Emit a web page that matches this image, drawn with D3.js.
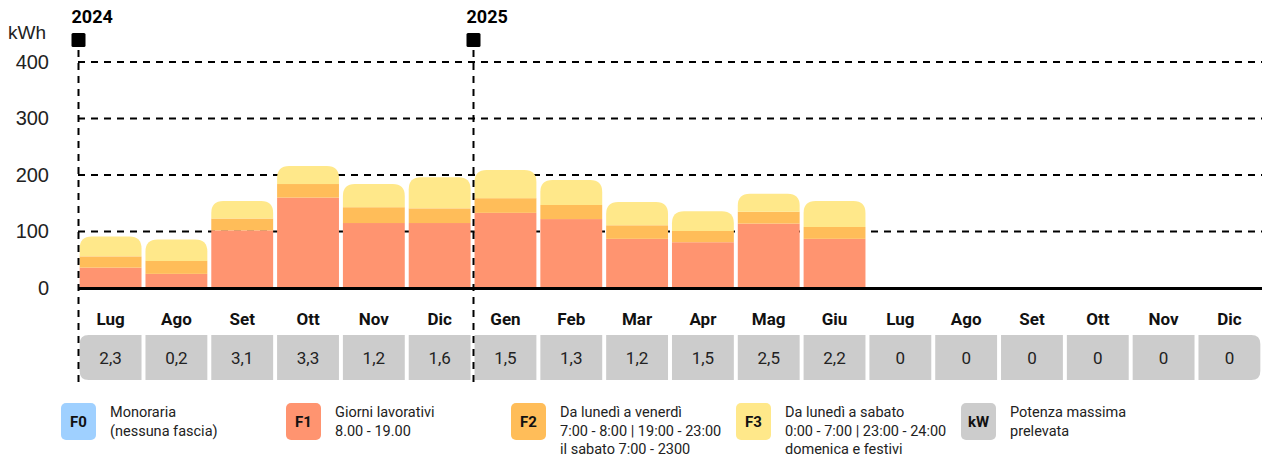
<!DOCTYPE html>
<html>
<head>
<meta charset="utf-8">
<script src="https://cdn.jsdelivr.net/npm/d3@7"></script>
<style>
  body { margin: 0; background: #fff; }
  svg { display: block; font-family: Roboto, "Noto Sans", sans-serif; }
</style>
</head>
<body>
<svg id="chart"></svg>
<script>
// months shown (two years, Jul 2024 .. Dic 2025)
var months = ["Lug","Ago","Set","Ott","Nov","Dic","Gen","Feb","Mar","Apr","Mag","Giu","Lug","Ago","Set","Ott","Nov","Dic"];
var keys = ["2024-07","2024-08","2024-09","2024-10","2024-11","2024-12","2025-01","2025-02","2025-03","2025-04","2025-05","2025-06","2025-07","2025-08","2025-09","2025-10","2025-11","2025-12"];
// kWh per fascia
var f1 = [36, 25, 102, 160, 115, 115, 133, 122, 87, 81, 114, 87, 0, 0, 0, 0, 0, 0];
var f2 = [20, 23, 21, 24, 28, 26, 26, 25, 24, 20, 21, 21, 0, 0, 0, 0, 0, 0];
var f3 = [35, 38, 31, 32, 41, 55, 50, 44, 41, 35, 32, 46, 0, 0, 0, 0, 0, 0];
// potenza massima prelevata (kW)
var kw = ["2,3","0,2","3,1","3,3","1,2","1,6","1,5","1,3","1,2","1,5","2,5","2,2","0","0","0","0","0","0"];
var yTicks = [0, 100, 200, 300, 400];
var years = [{label: "2024", key: "2024-07"}, {label: "2025", key: "2025-01"}];

var legendItems = [
  {code: "F0", color: "#9fd0ff", lines: ["Monoraria", "(nessuna fascia)"]},
  {code: "F1", color: "#ff9470", lines: ["Giorni lavorativi", "8.00 - 19.00"]},
  {code: "F2", color: "#ffbd59", lines: ["Da lunedì a venerdì", "7:00 - 8:00 | 19:00 - 23:00", "il sabato 7:00 - 2300"]},
  {code: "F3", color: "#ffe88a", lines: ["Da lunedì a sabato", "0:00 - 7:00 | 23:00 - 24:00", "domenica e festivi"]},
  {code: "kW", color: "#cccccc", lines: ["Potenza massima", "prelevata"]}
];
var colors = {f1: "#ff9470", f2: "#ffbd59", f3: "#ffe88a"};

var W = 1262, H = 459;
var svg = d3.select("#chart").attr("width", W).attr("height", H);

var x = d3.scaleBand().domain(keys).range([79, 1261]).paddingInner(0.06).paddingOuter(0.01);
var y = d3.scaleLinear().domain([0, 400]).range([288, 62]);

var data = keys.map(function(k, i){
  return {key: k, month: months[i], f1: f1[i], f2: f2[i], f3: f3[i], kw: kw[i]};
});

// gridlines
svg.append("g").selectAll("line").data(yTicks.filter(function(t){ return t > 0; })).enter()
  .append("line")
  .attr("x1", 78).attr("x2", W)
  .attr("y1", function(d){ return y(d); }).attr("y2", function(d){ return y(d); })
  .attr("stroke", "#000").attr("stroke-width", 2).attr("stroke-dasharray", "7,6");

// y axis labels
var yAxis = d3.axisLeft(y).tickValues(yTicks).tickSize(0).tickPadding(0);
var ya = svg.append("g").attr("transform", "translate(49,0)").call(yAxis);
ya.select(".domain").remove();
ya.selectAll("text").attr("font-size", 20).attr("fill", "#222").attr("font-family", "'Liberation Sans', Arial, sans-serif");

svg.append("text").attr("x", 8).attr("y", 39).attr("font-size", 19).attr("fill", "#222")
  .attr("font-family", "'Liberation Sans', Arial, sans-serif").text("kWh");

// rounded-top path
function roundedTop(x0, y0, w, h, r){
  r = Math.min(r, h, w / 2);
  return "M" + x0 + "," + (y0 + h) +
    "V" + (y0 + r) +
    "Q" + x0 + "," + y0 + " " + (x0 + r) + "," + y0 +
    "H" + (x0 + w - r) +
    "Q" + (x0 + w) + "," + y0 + " " + (x0 + w) + "," + (y0 + r) +
    "V" + (y0 + h) + "Z";
}

var stack = d3.stack().keys(["f1", "f2", "f3"])(data);
var bars = svg.append("g");
stack.forEach(function(layer, li){
  layer.forEach(function(seg, i){
    var h = y(seg[0]) - y(seg[1]);
    if (h <= 0) return;
    var d = data[i];
    if (li === 2) {
      bars.append("path")
        .attr("d", roundedTop(x(d.key), y(seg[1]), x.bandwidth(), h, 12))
        .attr("fill", colors[layer.key]);
    } else {
      bars.append("rect")
        .attr("x", x(d.key)).attr("y", y(seg[1]))
        .attr("width", x.bandwidth()).attr("height", h)
        .attr("fill", colors[layer.key]);
    }
  });
});

// baseline
svg.append("line").attr("x1", 78).attr("x2", W).attr("y1", 288.5).attr("y2", 288.5)
  .attr("stroke", "#000").attr("stroke-width", 3);

// month labels
svg.append("g").selectAll("text").data(data).enter().append("text")
  .attr("x", function(d){ return x(d.key) + x.bandwidth() / 2; })
  .attr("y", 325)
  .attr("text-anchor", "middle").attr("font-size", 17).attr("font-weight", "bold").attr("fill", "#111")
  .text(function(d){ return d.month; });

// kW boxes
var kwg = svg.append("g");
data.forEach(function(d, i){
  var x0 = x(d.key), w = x.bandwidth(), y0 = 335, h = 45, r = 9;
  var p;
  if (i === 0) {
    p = "M" + (x0 + w) + "," + y0 + "H" + (x0 + r) + "Q" + x0 + "," + y0 + " " + x0 + "," + (y0 + r) +
        "V" + (y0 + h - r) + "Q" + x0 + "," + (y0 + h) + " " + (x0 + r) + "," + (y0 + h) + "H" + (x0 + w) + "Z";
  } else if (i === data.length - 1) {
    p = "M" + x0 + "," + y0 + "H" + (x0 + w - r) + "Q" + (x0 + w) + "," + y0 + " " + (x0 + w) + "," + (y0 + r) +
        "V" + (y0 + h - r) + "Q" + (x0 + w) + "," + (y0 + h) + " " + (x0 + w - r) + "," + (y0 + h) + "H" + x0 + "Z";
  } else {
    p = "M" + x0 + "," + y0 + "h" + w + "v" + h + "h" + (-w) + "Z";
  }
  kwg.append("path").attr("d", p).attr("fill", "#cccccc");
  kwg.append("text").attr("x", x0 + w / 2).attr("y", y0 + h / 2 + 6)
    .attr("text-anchor", "middle").attr("font-size", 17).attr("fill", "#222").text(d.kw);
});

// year markers
years.forEach(function(yr){
  var xl = Math.round(x(yr.key) - (x.step() - x.bandwidth()) / 2) + 0.5;
  svg.append("line").attr("x1", xl).attr("x2", xl).attr("y1", 50).attr("y2", 382)
    .attr("stroke", "#000").attr("stroke-width", 2).attr("stroke-dasharray", "7,6");
  svg.append("rect").attr("x", xl - 7).attr("y", 33).attr("width", 14).attr("height", 14).attr("rx", 1.5).attr("fill", "#000");
  svg.append("text").attr("x", xl - 7).attr("y", 23).attr("font-size", 18).attr("font-weight", "bold").attr("fill", "#000").text(yr.label);
});

// legend
var lg = svg.append("g");
legendItems.forEach(function(it, i){
  var lx = 61 + i * 225;
  lg.append("rect").attr("x", lx).attr("y", 403).attr("width", 35).attr("height", 37).attr("rx", 5).attr("fill", it.color);
  lg.append("text").attr("x", lx + 17.5).attr("y", 427).attr("text-anchor", "middle")
    .attr("font-size", 15).attr("font-weight", "bold").attr("fill", "#111").text(it.code);
  it.lines.forEach(function(t, j){
    lg.append("text").attr("x", lx + 49).attr("y", 417 + j * 18.5)
      .attr("font-size", 14.5).attr("fill", "#222").text(t);
  });
});
</script>
</body>
</html>
